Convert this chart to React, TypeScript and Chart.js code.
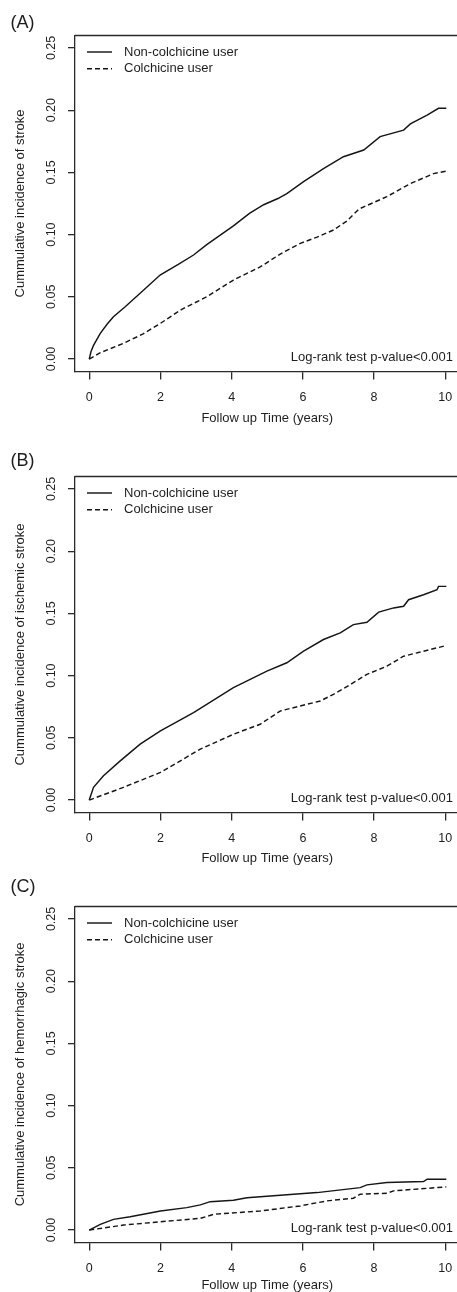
import React, { useEffect, useRef } from 'react';
import { Chart, registerables } from 'chart.js';

Chart.register(...registerables);

// ---------- data ----------
const xTickValues = [0, 2, 4, 6, 8, 10];
const yTickValues = [0, 0.05, 0.1, 0.15, 0.2, 0.25];
const seriesNames = ['Non-colchicine user', 'Colchicine user'];
const panelLetters = ['(A)', '(B)', '(C)'];
const yTitles = [
  'Cummulative incidence of stroke',
  'Cummulative incidence of ischemic stroke',
  'Cummulative incidence of hemorrhagic stroke',
];
const xTitle = 'Follow up Time (years)';
const pValueText = 'Log-rank test p-value<0.001';

// Panel A: stroke
const strokeNonYears = [0, 0.05, 0.12, 0.31, 0.5, 0.68, 1.01, 1.53, 1.99, 2.5, 2.93, 3.3, 3.6, 4.05, 4.5, 4.9, 5.3, 5.55, 6.02, 6.58, 7.14, 7.71, 8.17, 8.83, 9.02, 9.49, 9.81, 10.03];
const strokeNonValues = [0, 0.006, 0.011, 0.0206, 0.028, 0.034, 0.042, 0.0555, 0.0675, 0.076, 0.0836, 0.092, 0.098, 0.107, 0.117, 0.124, 0.129, 0.133, 0.1425, 0.153, 0.1626, 0.168, 0.1787, 0.184, 0.189, 0.196, 0.2015, 0.2015];
const strokeColYears = [0, 0.3, 0.96, 1.5, 2.0, 2.6, 3.3, 4.05, 4.8, 5.4, 5.93, 6.4, 6.86, 7.24, 7.52, 7.61, 8.36, 9.02, 9.67, 10.03];
const strokeColValues = [0, 0.005, 0.0126, 0.02, 0.0287, 0.04, 0.05, 0.0635, 0.074, 0.085, 0.093, 0.098, 0.1037, 0.111, 0.119, 0.121, 0.1305, 0.141, 0.149, 0.151];

// Panel B: ischemic stroke
const ischNonYears = [0, 0.12, 0.4, 0.87, 1.43, 2.0, 2.93, 4.05, 4.99, 5.55, 6.02, 6.58, 7.05, 7.42, 7.8, 8.13, 8.55, 8.83, 8.97, 9.39, 9.77, 9.81, 10.03];
const ischNonValues = [0, 0.0102, 0.0195, 0.0315, 0.0449, 0.0555, 0.0703, 0.0903, 0.1036, 0.1103, 0.1197, 0.129, 0.1343, 0.141, 0.1429, 0.151, 0.1544, 0.1557, 0.161, 0.165, 0.169, 0.1717, 0.1717];
const ischColYears = [0, 0.96, 2.0, 3.12, 4.05, 4.8, 5.37, 6.12, 6.49, 6.86, 7.42, 7.8, 8.36, 8.83, 9.39, 10.03];
const ischColValues = [0, 0.0102, 0.0222, 0.0409, 0.0529, 0.0609, 0.0716, 0.077, 0.0796, 0.085, 0.0943, 0.101, 0.1076, 0.1156, 0.1196, 0.1242];

// Panel C: hemorrhagic stroke
const hemNonYears = [0, 0.31, 0.68, 1.15, 2.0, 2.74, 3.12, 3.4, 4.05, 4.43, 5.46, 6.4, 7.61, 7.8, 8.36, 9.39, 9.49, 10.03];
const hemNonValues = [0, 0.0046, 0.0086, 0.0107, 0.0153, 0.018, 0.0202, 0.0228, 0.024, 0.026, 0.0282, 0.0301, 0.0341, 0.0363, 0.0382, 0.039, 0.0409, 0.0409];
const hemColYears = [0, 0.96, 2.0, 3.12, 3.5, 4.8, 5.93, 6.67, 7.42, 7.61, 8.36, 8.55, 10.03];
const hemColValues = [0, 0.004, 0.0067, 0.0094, 0.0127, 0.0153, 0.0194, 0.0234, 0.0256, 0.0288, 0.0296, 0.0315, 0.0347];

const panelSeries = [
  [[strokeNonYears, strokeNonValues], [strokeColYears, strokeColValues]],
  [[ischNonYears, ischNonValues], [ischColYears, ischColValues]],
  [[hemNonYears, hemNonValues], [hemColYears, hemColValues]],
];

// ---------- layout & style ----------
const FONT = '"Liberation Sans", Arial, Helvetica, sans-serif';
const TEXT_COLOR = '#1e1e1e';
const AXIS_COLOR = '#2a2a2a';
const LINE_COLOR = '#151515';
const CANVAS_W = 472;
const CANVAS_H = 440;
const PAD_TOP = 35.5;
const AREA_H = 336;
const AREA_LEFT = 75;
const AREA_W = 384.5;
const X_AXIS_H = CANVAS_H - PAD_TOP - AREA_H;

const panelLayouts = [
  { canvasTop: 0, letterY: 23.5, xTitleY: 418 },
  { canvasTop: 441, letterY: 461.5, xTitleY: 858 },
  { canvasTop: 871, letterY: 887, xTitleY: 1285 },
];

const decorPlugin = {
  id: 'panelDecor',
  afterDraw(chart: any, _args: any, opts: any) {
    const { ctx, chartArea } = chart;
    ctx.save();
    // remaining box edges (top / right)
    ctx.strokeStyle = AXIS_COLOR;
    ctx.lineWidth = 1.3;
    ctx.beginPath();
    ctx.moveTo(chartArea.left, chartArea.top);
    ctx.lineTo(chartArea.right, chartArea.top);
    ctx.lineTo(chartArea.right, chartArea.bottom);
    ctx.stroke();
    // panel letter
    ctx.fillStyle = TEXT_COLOR;
    ctx.textBaseline = 'middle';
    ctx.textAlign = 'left';
    ctx.font = `18px ${FONT}`;
    ctx.fillText(opts.letter, 10.5, opts.letterY);
    // legend
    ctx.font = `13px ${FONT}`;
    chart.data.datasets.forEach((ds: any, i: number) => {
      const y = chartArea.top + 16.5 + i * 16.8;
      ctx.strokeStyle = ds.borderColor;
      ctx.lineWidth = ds.borderWidth;
      ctx.setLineDash(ds.borderDash || []);
      ctx.beginPath();
      ctx.moveTo(87, y);
      ctx.lineTo(112, y);
      ctx.stroke();
      ctx.setLineDash([]);
      ctx.fillText(ds.label, 124, y);
    });
    // log-rank note
    const y0 = chart.scales.y.getPixelForValue(0) - 2;
    ctx.textAlign = 'right';
    ctx.fillText(opts.note, 453, y0);
    ctx.restore();
  },
};

function Panel({ index }: { index: number }) {
  const ref = useRef<HTMLCanvasElement>(null);
  const layout = panelLayouts[index];
  useEffect(() => {
    const series = panelSeries[index];
    const datasets = series.map(([xs, ys], si) => ({
      label: seriesNames[si],
      data: xs.map((x, i) => ({ x, y: ys[i] })),
      borderColor: LINE_COLOR,
      borderWidth: 1.45,
      borderDash: si === 1 ? [5, 3] : [],
      pointRadius: 0,
      fill: false,
      tension: 0,
    }));
    const xTitleBottomPad = CANVAS_H - (layout.xTitleY - layout.canvasTop) - (13 * 1.2) / 2;
    const chart = new Chart(ref.current as HTMLCanvasElement, {
      type: 'line',
      data: { datasets },
      plugins: [decorPlugin as any],
      options: {
        responsive: false,
        animation: false,
        devicePixelRatio: 1,
        events: [],
        layout: { padding: { top: PAD_TOP, left: 0, bottom: 0, right: CANVAS_W - AREA_LEFT - AREA_W } },
        plugins: {
          legend: { display: false },
          tooltip: { enabled: false },
          title: { display: false },
          panelDecor: { letter: panelLetters[index], letterY: layout.letterY - layout.canvasTop, note: pValueText },
        } as any,
        scales: {
          x: {
            type: 'linear',
            min: -0.4,
            max: 10.4,
            afterBuildTicks: (s: any) => {
              s.ticks = xTickValues.map((v) => ({ value: v }));
            },
            afterFit: (s: any) => {
              s.height = X_AXIS_H;
            },
            grid: { drawOnChartArea: false, drawTicks: true, tickLength: 8, color: AXIS_COLOR, lineWidth: 1.3 },
            border: { display: true, color: AXIS_COLOR, width: 1.3 },
            ticks: {
              color: TEXT_COLOR,
              font: { family: FONT, size: 12.5, lineHeight: 1.2 },
              padding: 10.2,
              minRotation: 0,
              maxRotation: 0,
              callback: (v: any) => Number(v).toFixed(0),
            },
            title: {
              display: true,
              text: xTitle,
              color: TEXT_COLOR,
              font: { family: FONT, size: 13, lineHeight: 1.2 },
              padding: { top: 0, bottom: xTitleBottomPad },
            },
          },
          y: {
            type: 'linear',
            min: -0.01,
            max: 0.26,
            afterBuildTicks: (s: any) => {
              s.ticks = yTickValues.map((v) => ({ value: v }));
            },
            afterFit: (s: any) => {
              s.width = AREA_LEFT;
            },
            grid: { drawOnChartArea: false, drawTicks: true, tickLength: 7, color: AXIS_COLOR, lineWidth: 1.3 },
            border: { display: true, color: AXIS_COLOR, width: 1.3 },
            ticks: {
              color: TEXT_COLOR,
              font: { family: FONT, size: 12.5, lineHeight: 1.2 },
              padding: 3.8,
              minRotation: 90,
              maxRotation: 90,
              crossAlign: 'center',
              callback: (v: any) => Number(v).toFixed(2),
            },
            title: {
              display: true,
              text: yTitles[index],
              color: TEXT_COLOR,
              font: { family: FONT, size: 13, lineHeight: 1.2 },
              padding: { top: 12.2, bottom: 0 },
            },
          },
        },
      } as any,
    });
    return () => chart.destroy();
  }, [index]);
  return (
    <canvas
      ref={ref}
      width={CANVAS_W}
      height={CANVAS_H}
      style={{ position: 'absolute', left: 0, top: layout.canvasTop, width: CANVAS_W, height: CANVAS_H }}
    />
  );
}

export default function App() {
  return (
    <div
      style={{
        position: 'absolute',
        left: 0,
        top: 0,
        width: 457,
        height: 1292,
        overflow: 'hidden',
        background: '#ffffff',
      }}
    >
      {[0, 1, 2].map((i) => (
        <Panel key={i} index={i} />
      ))}
    </div>
  );
}
